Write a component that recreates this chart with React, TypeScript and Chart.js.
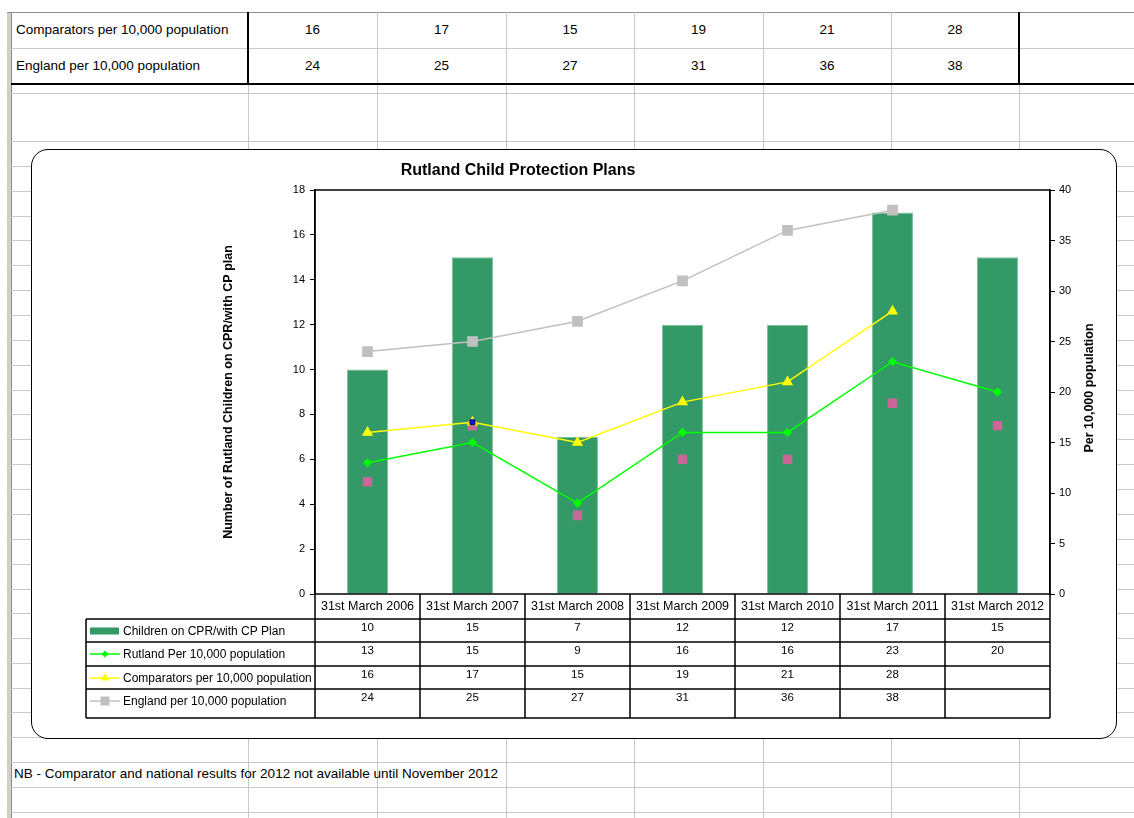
import React, { useEffect, useRef } from "react";
import { Chart, registerables } from "chart.js";

Chart.register(...registerables);

// ---------- data ----------
const categories = [
  "31st March 2006",
  "31st March 2007",
  "31st March 2008",
  "31st March 2009",
  "31st March 2010",
  "31st March 2011",
  "31st March 2012",
];
const childrenOnPlan = [10, 15, 7, 12, 12, 17, 15];
const rutlandPer10k = [13, 15, 9, 16, 16, 23, 20];
const comparatorsPer10k: (number | null)[] = [16, 17, 15, 19, 21, 28, null];
const englandPer10k: (number | null)[] = [24, 25, 27, 31, 36, 38, null];
const pinkMarkers = [5, 7.5, 3.5, 6, 6, 8.5, 7.5];
const blueMarker: (number | null)[] = [null, 17, null, null, null, null, null];

const leftAxisMax = 18;
const leftAxisStep = 2;
const rightAxisMax = 40;
const rightAxisStep = 5;

const chartTitle = "Rutland Child Protection Plans";
const leftAxisTitle = "Number of Rutland Children on CPR/with CP plan";
const rightAxisTitle = "Per 10,000 population";
const noteText =
  "NB - Comparator and national results for 2012 not available until November 2012";

// ---------- style / layout ----------
const FONT = '"Liberation Sans", Arial, sans-serif';
const GREEN = "#339966";
const LIME = "#00FF00";
const YELLOW = "#FFFF00";
const GREY = "#C0C0C0";
const PINK = "#CC6699";

const hLines = [48, 93, 141, 166, 191, 216, 240, 265, 290, 315, 340, 365, 390, 414, 439, 464, 489, 514, 539, 564, 589, 613, 638, 663, 688, 712, 737, 762, 787, 812];
const vLines = [248, 377, 506, 634, 763, 891, 1019];

const ROW_OFFS = [0, 25, 48, 72, 95, 124];
const LEGEND_LEFT = 53;

function drawMarker(ctx: CanvasRenderingContext2D, kind: string, x: number, y: number, color: string) {
  ctx.fillStyle = color;
  ctx.beginPath();
  if (kind === "diamond") {
    const r = 3.5;
    ctx.moveTo(x, y - r);
    ctx.lineTo(x + r, y);
    ctx.lineTo(x, y + r);
    ctx.lineTo(x - r, y);
    ctx.closePath();
  } else if (kind === "triangle") {
    const r = 5;
    ctx.moveTo(x, y - r);
    ctx.lineTo(x + r * 0.87, y + r * 0.5);
    ctx.lineTo(x - r * 0.87, y + r * 0.5);
    ctx.closePath();
  } else {
    ctx.rect(x - 4.5, y - 4.5, 9, 9);
  }
  ctx.fill();
}

const tablePlugin = {
  id: "dataTable",
  afterDraw(chart: any) {
    const { ctx, chartArea: a, scales } = chart;
    const xs = scales.x;
    const n = categories.length;
    const half = (xs.getPixelForValue(1) - xs.getPixelForValue(0)) / 2;
    const rows = ROW_OFFS.map((o) => a.bottom + o);
    const last = rows.length - 1;
    ctx.save();

    // chart title
    ctx.font = `bold 16px ${FONT}`;
    ctx.fillStyle = "#000";
    ctx.textAlign = "center";
    ctx.textBaseline = "middle";
    ctx.fillText(chartTitle, 485, 20);

    ctx.strokeStyle = "#000";
    ctx.lineWidth = 1.5;
    ctx.strokeRect(a.left, a.top, a.right - a.left, a.bottom - a.top);
    ctx.beginPath();
    for (let r = 1; r < rows.length; r++) {
      ctx.moveTo(LEGEND_LEFT, rows[r]);
      ctx.lineTo(a.right, rows[r]);
    }
    ctx.moveTo(LEGEND_LEFT, rows[1]);
    ctx.lineTo(LEGEND_LEFT, rows[last]);
    for (let i = 0; i <= n; i++) {
      const xx = i < n ? xs.getPixelForValue(i) - half : a.right;
      ctx.moveTo(xx, rows[0]);
      ctx.lineTo(xx, rows[last]);
    }
    ctx.stroke();

    const tableSets = chart.data.datasets
      .filter((d: any) => d.tableRow !== undefined)
      .sort((p: any, q: any) => p.tableRow - q.tableRow);
    tableSets.forEach((ds: any, k: number) => {
      const top = rows[k + 1];
      ctx.font = `11.5px ${FONT}`;
      ctx.fillStyle = "#000";
      ctx.textAlign = "center";
      ctx.textBaseline = "middle";
      ds.data.forEach((v: any, i: number) => {
        if (v === null || v === undefined) return;
        ctx.fillText(String(v), xs.getPixelForValue(i), top + 9);
      });
      const cy = top + 12;
      const sx = LEGEND_LEFT + 4;
      if (ds.type === "bar") {
        ctx.fillStyle = ds.backgroundColor;
        ctx.fillRect(sx, cy - 3.5, 29, 7);
      } else {
        ctx.strokeStyle = ds.borderColor;
        ctx.lineWidth = 1.5;
        ctx.beginPath();
        ctx.moveTo(sx, cy);
        ctx.lineTo(sx + 30, cy);
        ctx.stroke();
        drawMarker(ctx, ds.legendMarker, sx + 15, cy, ds.pointBackgroundColor);
      }
      ctx.font = `12px ${FONT}`;
      ctx.fillStyle = "#000";
      ctx.textAlign = "left";
      ctx.save();
      ctx.beginPath();
      ctx.rect(LEGEND_LEFT, top, a.left - LEGEND_LEFT - 1, 30);
      ctx.clip();
      ctx.fillText(ds.label, sx + 33, cy + 1);
      ctx.restore();
    });

    // right axis title (reads bottom to top)
    ctx.save();
    ctx.translate(1057, (a.top + a.bottom) / 2 - 4);
    ctx.rotate(-Math.PI / 2);
    ctx.font = `bold 12.5px ${FONT}`;
    ctx.fillStyle = "#000";
    ctx.textAlign = "center";
    ctx.textBaseline = "middle";
    ctx.fillText(rightAxisTitle, 0, 0);
    ctx.restore();
    ctx.restore();
  },
};

export default function App() {
  const ref = useRef<HTMLCanvasElement>(null);
  useEffect(() => {
    Chart.defaults.font.family = FONT;
    const chart = new Chart(ref.current!, {
      type: "bar",
      data: {
        labels: categories,
        datasets: [
          {
            type: "line",
            label: "marker",
            data: blueMarker,
            yAxisID: "y1",
            showLine: false,
            pointStyle: "rect",
            pointRadius: 3.5,
            pointBackgroundColor: "#1414e0",
            pointBorderColor: "#000080",
            pointBorderWidth: 1,
            order: 0,
          } as any,
          {
            type: "line",
            label: "Rutland Per 10,000 population",
            data: rutlandPer10k,
            yAxisID: "y1",
            borderColor: LIME,
            borderWidth: 1.5,
            pointStyle: "rectRot",
            pointRadius: 3.5,
            pointBackgroundColor: LIME,
            pointBorderColor: LIME,
            tension: 0,
            tableRow: 1,
            legendMarker: "diamond",
            order: 1,
          } as any,
          {
            type: "line",
            label: "Comparators per 10,000 population",
            data: comparatorsPer10k,
            yAxisID: "y1",
            borderColor: YELLOW,
            borderWidth: 1.5,
            pointStyle: "triangle",
            pointRadius: 5,
            pointBackgroundColor: YELLOW,
            pointBorderColor: YELLOW,
            tension: 0,
            tableRow: 2,
            legendMarker: "triangle",
            order: 2,
          } as any,
          {
            type: "line",
            label: "England per 10,000 population",
            data: englandPer10k,
            yAxisID: "y1",
            borderColor: GREY,
            borderWidth: 1.5,
            pointStyle: "rect",
            pointRadius: 6.5,
            pointBackgroundColor: GREY,
            pointBorderColor: GREY,
            tension: 0,
            tableRow: 3,
            legendMarker: "square",
            order: 3,
          } as any,
          {
            type: "line",
            label: "pink",
            data: pinkMarkers,
            yAxisID: "y",
            showLine: false,
            pointStyle: "rect",
            pointRadius: 6,
            pointBackgroundColor: PINK,
            pointBorderColor: PINK,
            order: 4,
          } as any,
          {
            type: "bar",
            label: "Children on CPR/with CP Plan",
            data: childrenOnPlan,
            yAxisID: "y",
            backgroundColor: GREEN,
            borderColor: "#7fbf9f",
            borderWidth: 1,
            barPercentage: 0.39,
            categoryPercentage: 1,
            tableRow: 0,
            order: 10,
          } as any,
        ],
      },
      options: {
        responsive: false,
        animation: false,
        devicePixelRatio: 1,
        layout: { padding: { left: 185, right: 15, top: 39, bottom: 0 } },
        plugins: {
          legend: { display: false },
          tooltip: { enabled: false },
          title: { display: false },
        },
        scales: {
          x: {
            offset: true,
            grid: { display: false, drawTicks: false },
            border: { display: false },
            ticks: { color: "#000", font: { size: 12.5 }, padding: 5, maxRotation: 0, autoSkip: false },
            afterFit: (s: any) => {
              s.height = 143;
            },
          },
          y: {
            position: "left",
            min: 0,
            max: leftAxisMax,
            ticks: { stepSize: leftAxisStep, color: "#000", font: { size: 11 }, padding: 5 },
            grid: { drawOnChartArea: false, drawTicks: true, tickLength: 5, color: "#000" },
            border: { color: "#000", width: 1.5 },
            title: {
              display: true,
              text: leftAxisTitle,
              color: "#000",
              font: { size: 12.5, weight: "bold" },
              padding: { top: 3, bottom: 4 },
            },
            afterFit: (s: any) => {
              s.width = 97;
            },
          },
          y1: {
            position: "right",
            min: 0,
            max: rightAxisMax,
            ticks: { stepSize: rightAxisStep, color: "#000", font: { size: 11 }, padding: 4 },
            grid: { drawOnChartArea: false, drawTicks: true, tickLength: 5, color: "#000" },
            border: { color: "#000", width: 1.5 },
            afterFit: (s: any) => {
              s.width = 50;
            },
          },
        },
      } as any,
      plugins: [tablePlugin],
    });
    return () => chart.destroy();
  }, []);

  const colCenters = vLines.slice(0, -1).map((x, i) => (x + vLines[i + 1]) / 2);
  const cellText: React.CSSProperties = {
    position: "absolute",
    fontSize: 13.5,
    lineHeight: "16px",
    color: "#000",
    whiteSpace: "nowrap",
  };

  return (
    <div
      style={{
        position: "absolute",
        left: 0,
        top: 0,
        width: 1134,
        height: 818,
        background: "#fff",
        overflow: "hidden",
        fontFamily: FONT,
      }}
    >
      {/* row header strip */}
      <div style={{ position: "absolute", left: 7, top: 12, width: 4, height: 806, background: "#d4d0c8", borderRight: "1px solid #8a8a8a" }} />
      {/* top border */}
      <div style={{ position: "absolute", left: 7, top: 12, width: 1127, height: 1, background: "#909090" }} />
      {hLines.map((y) => (
        <div key={"h" + y} style={{ position: "absolute", left: 7, top: y, width: 1127, height: 1, background: "#c8c8c8" }} />
      ))}
      {vLines.map((x) => (
        <div key={"v" + x} style={{ position: "absolute", left: x, top: 12, width: 1, height: 806, background: "#c8c8c8" }} />
      ))}
      {/* black table borders */}
      <div style={{ position: "absolute", left: 11, top: 83, width: 1123, height: 2, background: "#000" }} />
      <div style={{ position: "absolute", left: 247, top: 12, width: 2, height: 72, background: "#000" }} />
      <div style={{ position: "absolute", left: 1018, top: 12, width: 2, height: 72, background: "#000" }} />

      {/* top table */}
      <div style={{ ...cellText, left: 16, top: 22 }}>Comparators per 10,000 population</div>
      <div style={{ ...cellText, left: 16, top: 58 }}>England per 10,000 population</div>
      {colCenters.map((cx, i) => (
        <React.Fragment key={"c" + i}>
          <div style={{ ...cellText, left: cx - 20, width: 40, textAlign: "center", top: 22 }}>
            {comparatorsPer10k[i] ?? ""}
          </div>
          <div style={{ ...cellText, left: cx - 20, width: 40, textAlign: "center", top: 58 }}>
            {englandPer10k[i] ?? ""}
          </div>
        </React.Fragment>
      ))}

      {/* chart box */}
      <div
        style={{
          position: "absolute",
          left: 31,
          top: 149,
          width: 1084,
          height: 588,
          border: "1.5px solid #000",
          borderRadius: 17,
          background: "#fff",
        }}
      >
        <canvas ref={ref} width={1082} height={586} style={{ display: "block", width: 1082, height: 586, marginLeft: 0.5, marginTop: 0.5 }} />
      </div>

      <div style={{ ...cellText, left: 14, top: 766 }}>{noteText}</div>
    </div>
  );
}
